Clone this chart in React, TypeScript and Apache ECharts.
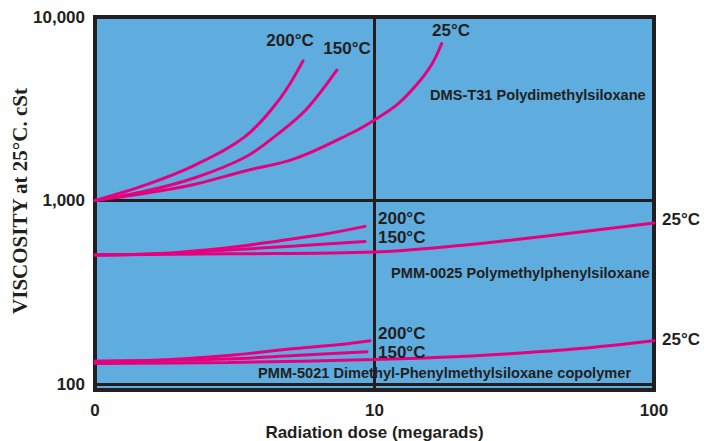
import React, { useEffect, useRef } from 'react';
import * as echarts from 'echarts';

// ---- Data (radiation dose in megarads, viscosity in cSt) ----
const xTickValues = [1, 10, 100];
const xTickLabels = ['0', '10', '100'];
const yTickValues = [100, 1000, 10000];
const yTickLabels = ['100', '1,000', '10,000'];

// DMS-T31 Polydimethylsiloxane
const dms200X = [1, 1.51, 2.28, 3.44, 4.59, 5.55];
const dms200Y = [1000, 1212, 1560, 2230, 3594, 5768];
const dms150X = [1, 1.51, 2.28, 3.44, 4.59, 5.73, 7.34];
const dms150Y = [1000, 1122, 1330, 1720, 2350, 3162, 5144];
const dms25X = [1, 1.51, 2.28, 3.44, 5.19, 8.38, 10, 12.04, 14.19, 16.06, 17.39];
const dms25Y = [1000, 1094, 1227, 1449, 1690, 2355, 2748, 3327, 4300, 5548, 7171];

// PMM-0025 Polymethylphenylsiloxane
const pmm0025_200X = [1, 1.71, 2.99, 4.59, 6.49, 9.25];
const pmm0025_200Y = [505, 514, 553, 604, 652, 723];
const pmm0025_150X = [1, 1.71, 2.99, 5.19, 9.25];
const pmm0025_150Y = [505, 512, 537, 565, 598];
const pmm0025_25X = [1, 2.99, 10, 20.2, 30.5, 54.3, 100];
const pmm0025_25Y = [505, 512, 524, 568, 607, 674, 753];

// PMM-5021 Dimethyl-Phenylmethylsiloxane copolymer
const pmm5021_200X = [1, 1.71, 2.99, 5.19, 7.53, 9.64];
const pmm5021_200Y = [133, 135, 143, 156, 164, 172];
const pmm5021_150X = [1, 2.99, 5.19, 9.4];
const pmm5021_150Y = [133, 137, 143, 150];
const pmm5021_25X = [1, 2.99, 10, 20.2, 30.5, 54.3, 100];
const pmm5021_25Y = [129.5, 131, 136, 141, 146, 156, 172];

const groupNames = [
  'DMS-T31 Polydimethylsiloxane',
  'PMM-0025 Polymethylphenylsiloxane',
  'PMM-5021 Dimethyl-Phenylmethylsiloxane copolymer',
];
const tempLabels = ['200°C', '150°C', '25°C'];

const xAxisTitle = 'Radiation dose (megarads)';
const yAxisTitle = 'VISCOSITY at 25°C. cSt';

// ---- Styling ----
const INK = '#231f20';
const PINK = '#E6007E';
const BLUE = '#5FADDF';
const SANS = '"Liberation Sans", Arial, Helvetica, sans-serif';
const SERIF = '"Liberation Serif", "Times New Roman", serif';

const zip = (xs: number[], ys: number[]) => xs.map((x, i) => [x, ys[i]]);

const curves: [number[], number[]][] = [
  [dms200X, dms200Y],
  [dms150X, dms150Y],
  [dms25X, dms25Y],
  [pmm0025_200X, pmm0025_200Y],
  [pmm0025_150X, pmm0025_150Y],
  [pmm0025_25X, pmm0025_25Y],
  [pmm5021_200X, pmm5021_200Y],
  [pmm5021_150X, pmm5021_150Y],
  [pmm5021_25X, pmm5021_25Y],
];

export default function App() {
  const ref = useRef<HTMLDivElement>(null);

  useEffect(() => {
    if (!ref.current) return;
    const chart = echarts.init(ref.current, undefined, { renderer: 'svg' });

    const tempText = (text: string, x: number, y: number, align: string = 'left') => ({
      type: 'text',
      x,
      y,
      silent: true,
      z: 100,
      style: {
        text,
        fill: INK,
        font: `bold 17px ${SANS}`,
        align,
        verticalAlign: 'middle',
      },
    });
    const groupText = (text: string, x: number, y: number) => ({
      type: 'text',
      x,
      y,
      silent: true,
      z: 100,
      style: {
        text,
        fill: INK,
        font: `bold 14.6px ${SANS}`,
        align: 'left',
        verticalAlign: 'middle',
      },
    });

    const option: any = {
      animation: false,
      backgroundColor: '#ffffff',
      grid: {
        left: 95,
        right: 50,
        top: 17,
        bottom: 51,
        containLabel: false,
        outerBoundsMode: 'none',
        show: true,
        backgroundColor: BLUE,
        borderColor: INK,
        borderWidth: 4,
      },
      xAxis: {
        type: 'log',
        logBase: 10,
        min: 1,
        max: 100,
        name: xAxisTitle,
        nameLocation: 'middle',
        nameGap: 31,
        nameTextStyle: { color: INK, fontFamily: SANS, fontWeight: 'bold', fontSize: 17 },
        axisLine: { show: false },
        axisTick: { show: false },
        axisLabel: {
          margin: 12,
          color: INK,
          fontFamily: SANS,
          fontWeight: 'bold',
          fontSize: 17,
          formatter: (v: number) => {
            const i = xTickValues.findIndex((t) => Math.abs(t - v) / t < 1e-6);
            return i >= 0 ? xTickLabels[i] : '';
          },
        },
        splitLine: { show: true, lineStyle: { color: INK, width: 3 } },
      },
      yAxis: {
        type: 'log',
        logBase: 10,
        // the frame extends slightly below the 100 line, as in the original
        min: 92.75,
        max: 10000,
        axisLine: { show: false },
        axisTick: { show: false },
        axisLabel: {
          margin: 10,
          color: INK,
          fontFamily: SANS,
          fontWeight: 'bold',
          fontSize: 17,
          showMinLabel: true,
          showMaxLabel: true,
          formatter: (v: number) => {
            const i = yTickValues.findIndex((t) => Math.abs(t - v) / t < 1e-6);
            return i >= 0 ? yTickLabels[i] : '';
          },
        },
        splitLine: { show: true, lineStyle: { color: INK, width: 3 } },
      },
      series: curves.map(([xs, ys], i) => ({
        type: 'line',
        name: `curve${i}`,
        data: zip(xs, ys),
        smooth: 0.35,
        showSymbol: false,
        symbol: 'none',
        silent: true,
        z: 5,
        lineStyle: { color: PINK, width: 3, cap: 'round' },
      })),
      graphic: [
        {
          type: 'text',
          x: 20,
          y: 201,
          rotation: Math.PI / 2,
          silent: true,
          style: {
            text: yAxisTitle,
            fill: INK,
            font: `bold 21px ${SERIF}`,
            align: 'center',
            verticalAlign: 'middle',
          },
        },
        // DMS-T31
        tempText(tempLabels[0], 290, 40, 'center'),
        tempText(tempLabels[1], 347, 48, 'center'),
        tempText(tempLabels[2], 451, 30, 'center'),
        groupText(groupNames[0], 430, 95),
        // PMM-0025
        tempText(tempLabels[0], 378, 218),
        tempText(tempLabels[1], 378, 237),
        tempText(tempLabels[2], 662, 219),
        groupText(groupNames[1], 391, 272.5),
        // PMM-5021
        tempText(tempLabels[0], 378, 333),
        tempText(tempLabels[1], 378, 352),
        tempText(tempLabels[2], 662, 339),
        groupText(groupNames[2], 258, 373),
      ],
    };

    chart.setOption(option);
    return () => chart.dispose();
  }, []);

  return (
    <div
      ref={ref}
      style={{ position: 'fixed', left: 0, top: 0, width: 704, height: 441, background: '#fff' }}
    />
  );
}
